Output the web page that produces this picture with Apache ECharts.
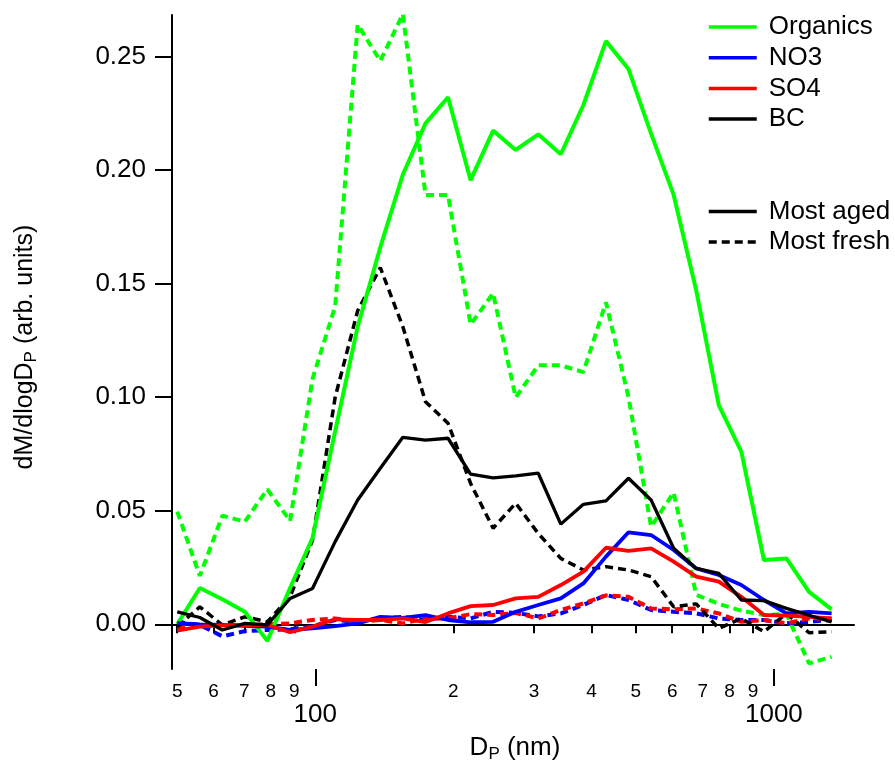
<!DOCTYPE html>
<html>
<head>
<meta charset="utf-8">
<script src="https://cdn.jsdelivr.net/npm/echarts@6/dist/echarts.min.js"></script>
<style>
	html, body { margin: 0; padding: 0; background: #fff; }
	#chart { width: 895px; height: 764px; }
</style>
</head>
<body>
<div id="chart"></div>
<script>
/* particle diameter, nm */
const dp = [50.0, 56.0, 62.7, 70.2, 78.6, 88.1, 98.6, 110.5, 123.7, 138.6, 155.2, 173.9, 194.7, 218.1, 244.2,
	273.5, 306.3, 343.0, 384.2, 430.3, 481.9, 539.7, 604.5, 677.0, 758.2, 849.1, 951.0, 1065, 1193, 1336];

/* most aged */
const organicsAged = [0.000, 0.016, 0.011, 0.0055, -0.0073, 0.016, 0.038, 0.085, 0.131, 0.166, 0.198, 0.2205, 0.232, 0.1955, 0.2173,
	0.2088, 0.2157, 0.2069, 0.2286, 0.2567, 0.2444, 0.216, 0.189, 0.147, 0.0965, 0.076, 0.0283, 0.029, 0.0143, 0.0066];
const no3Aged = [0.0005, 0.0, -0.0003, -0.0007, -0.001, -0.0025, -0.0018, -0.0008, 0.0004, 0.0033, 0.0028, 0.004, 0.0019, 0.0009, 0.0011,
	0.0055, 0.0085, 0.0114, 0.018, 0.0298, 0.0405, 0.0393, 0.0327, 0.0246, 0.0217, 0.0173, 0.0107, 0.0048, 0.0055, 0.0048];
const so4Aged = [-0.0028, -0.001, -0.0005, -0.0003, -0.0003, -0.0035, -0.001, 0.0022, 0.0019, 0.0019, 0.0026, 0.001, 0.0048, 0.008, 0.0085,
	0.0114, 0.0121, 0.0173, 0.0232, 0.0337, 0.0323, 0.0334, 0.0276, 0.021, 0.0188, 0.0121, 0.0041, 0.0038, 0.0033, 0.0026];
const bcAged = [0.0055, 0.003, -0.0025, 0.0004, -0.0003, 0.0114, 0.0158, 0.0364, 0.0547, 0.0687, 0.0823, 0.0811, 0.0819, 0.0661, 0.0645,
	0.0653, 0.0665, 0.0441, 0.0528, 0.0543, 0.0643, 0.0547, 0.0335, 0.0246, 0.0224, 0.0107, 0.0104, 0.007, 0.004, 0.0011];

/* most fresh */
const organicsFresh = [0.0496, 0.0213, 0.0478, 0.0452, 0.0594, 0.0455, 0.108, 0.140, 0.264, 0.248, 0.2686, 0.189, 0.189, 0.132, 0.1457,
	0.0999, 0.114, 0.114, 0.111, 0.1417, 0.100, 0.043, 0.058, 0.013, 0.009, 0.006, 0.0041, 0.0045, -0.0172, -0.0143];
const no3Fresh = [0.0011, -0.0003, -0.0053, -0.003, -0.0025, -0.0022, -0.0008, 0.0019, 0.0011, 0.0026, 0.0033, 0.0019, 0.0033, 0.0026, 0.0055,
	0.005, 0.0035, 0.0048, 0.0085, 0.0129, 0.0107, 0.0063, 0.0055, 0.0048, 0.0026, 0.0019, 0.0019, 0.0004, 0.0011, 0.0019];
const so4Fresh = [-0.0015, -0.0005, -0.0003, -0.0003, 0.0, 0.0004, 0.0019, 0.0026, 0.0011, 0.0019, 0.0004, 0.0026, 0.0026, 0.0045, 0.0041,
	0.005, 0.0026, 0.0063, 0.0092, 0.0127, 0.0121, 0.007, 0.0066, 0.007, 0.0048, 0.0011, 0.0019, 0.0004, 0.0026, 0.0026];
const bcFresh = [-0.001, 0.0077, -0.0003, 0.0033, 0.0011, 0.0121, 0.037, 0.100, 0.138, 0.157, 0.131, 0.098, 0.0885, 0.062, 0.0423,
	0.0533, 0.040, 0.029, 0.0239, 0.0254, 0.0239, 0.021, 0.0077, 0.009, -0.0018, 0.0026, -0.0033, 0.0048, -0.0037, -0.0033];

/* ticks */
const yTicks = [0, 0.05, 0.10, 0.15, 0.20, 0.25];
const xMinorTicks = [50, 60, 70, 80, 90, 200, 300, 400, 500, 600, 700, 800, 900];
const xMajorTicks = [100, 1000];

const FONT = 'Liberation Sans, Arial, sans-serif';
const DASH = [8, 5];

// log axis drawn as value axis over log10(dp)
const toXY = vals => dp.map((d, i) => [Math.log10(d), vals[i]]);

const line = (name, color, vals, dashed, width) => ({
	name,
	type: 'line',
	data: toXY(vals),
	symbol: 'none',
	clip: false,
	lineStyle: { color, width, type: dashed ? DASH : 'solid' },
	itemStyle: { color }
});

const legendBase = {
	orient: 'vertical',
	left: 707,
	padding: 0,
	itemWidth: 48,
	itemHeight: 14,
	itemGap: 4.7,
	selectedMode: false,
	// hide the symbol drawn on the legend line
	itemStyle: { opacity: 0, borderWidth: 0 },
	lineStyle: { width: 3.5 },
	textStyle: { fontSize: 26, fontFamily: FONT, color: '#000', lineHeight: 26, padding: [0, 0, 0, 7] }
};

const chart = echarts.init(document.getElementById('chart'));
chart.setOption({
	animation: false,
	backgroundColor: '#fff',
	grid: { left: 172, right: 41, top: 15, bottom: 95 },
	xAxis: [
		{
			type: 'value',
			min: Math.log10(48.7),
			max: Math.log10(1495),
			splitLine: { show: false },
			axisLine: { show: true, lineStyle: { color: '#000', width: 2 } },
			axisTick: { show: true, length: 9, lineStyle: { color: '#000', width: 2 }, customValues: xMinorTicks.map(Math.log10) },
			axisLabel: {
				customValues: xMinorTicks.map(Math.log10),
				formatter: v => String(Math.round(Math.pow(10, v - Math.floor(v + 1e-9)))),
				fontSize: 19,
				fontFamily: FONT,
				color: '#000',
				margin: 13
			}
		},
		{
			type: 'value',
			position: 'bottom',
			min: Math.log10(48.7),
			max: Math.log10(1495),
			splitLine: { show: false },
			axisLine: { show: false },
			axisTick: { show: true, length: 17, lineStyle: { color: '#000', width: 2 }, customValues: xMajorTicks.map(Math.log10) },
			axisLabel: {
				customValues: xMajorTicks.map(Math.log10),
				formatter: v => String(Math.round(Math.pow(10, v))),
				fontSize: 26,
				fontFamily: FONT,
				color: '#000',
				margin: 33
			}
		}
	],
	yAxis: {
		type: 'value',
		min: -0.01967,
		max: 0.2682,
		splitLine: { show: false },
		axisLine: { show: true, lineStyle: { color: '#000', width: 2 } },
		axisTick: { show: true, length: 17, lineStyle: { color: '#000', width: 2 }, customValues: yTicks },
		axisLabel: {
			customValues: yTicks,
			formatter: v => v.toFixed(2),
			fontSize: 26,
			fontFamily: FONT,
			color: '#000',
			margin: 26
		}
	},
	legend: [
		Object.assign({}, legendBase, { data: ['Organics', 'NO3', 'SO4', 'BC'], top: 14 }),
		Object.assign({}, legendBase, { data: ['Most aged', 'Most fresh'], top: 198.4 })
	],
	graphic: [
		{
			type: 'text',
			x: 25,
			y: 347,
			rotation: Math.PI / 2,
			style: {
				text: '{m|dM/dlogD}{s|P}{m| (arb. units)}',
				rich: {
					m: { fontSize: 25, fontFamily: FONT, lineHeight: 30, fill: '#000' },
					s: { fontSize: 17, fontFamily: FONT, lineHeight: 17, verticalAlign: 'bottom', fill: '#000' }
				},
				fill: '#000',
				align: 'center',
				verticalAlign: 'middle',
				textAlign: 'center',
				textVerticalAlign: 'middle'
			}
		},
		{
			type: 'text',
			x: 515,
			y: 748,
			style: {
				text: '{m|D}{s|P}{m| (nm)}',
				rich: {
					m: { fontSize: 26, fontFamily: FONT, lineHeight: 30, fill: '#000' },
					s: { fontSize: 17, fontFamily: FONT, lineHeight: 17, verticalAlign: 'bottom', fill: '#000' }
				},
				fill: '#000',
				align: 'center',
				verticalAlign: 'middle',
				textAlign: 'center',
				textVerticalAlign: 'middle'
			}
		}
	],
	series: [
		line('Organics (most fresh)', '#00ff00', organicsFresh, true, 4),
		line('NO3 (most fresh)', '#0000ff', no3Fresh, true, 4),
		line('SO4 (most fresh)', '#ff0000', so4Fresh, true, 4),
		line('BC (most fresh)', '#000000', bcFresh, true, 3.5),
		line('Organics', '#00ff00', organicsAged, false, 4),
		line('NO3', '#0000ff', no3Aged, false, 3.8),
		line('SO4', '#ff0000', so4Aged, false, 3.8),
		line('BC', '#000000', bcAged, false, 3.3),
		{ name: 'Most aged', type: 'line', data: [], symbol: 'none', lineStyle: { color: '#000', width: 3.5 }, itemStyle: { color: '#000' } },
		{ name: 'Most fresh', type: 'line', data: [], symbol: 'none', lineStyle: { color: '#000', width: 3.5, type: DASH }, itemStyle: { color: '#000' } }
	]
});
</script>
</body>
</html>
